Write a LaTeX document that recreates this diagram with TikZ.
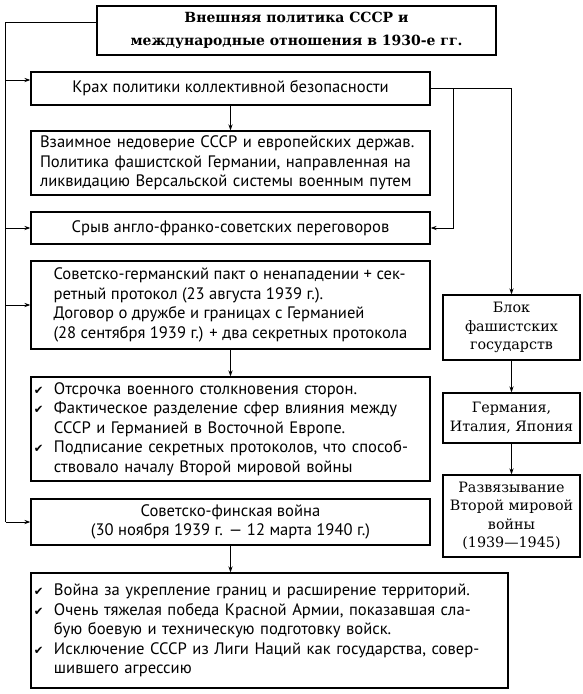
\documentclass[tikz,border=0pt]{standalone}
\usepackage{fontspec}
\setmainfont{PT Sans}
\newfontfamily\serifr{DejaVu Serif}
\newfontfamily\symf{DejaVu Sans}
\usetikzlibrary{arrows.meta}
\newcommand\ck{\makebox[20pt][l]{\symf\fontsize{11.5}{11.5}\selectfont ✔}}
\newcommand\ind{\hspace*{20pt}}
\tikzset{
  box/.style={draw, line width=1.2pt, inner sep=0pt, align=center,
    font=\fontsize{16.6}{19.5}\selectfont},
  lbox/.style={box, align=left},
  rbox/.style={box, minimum width=137pt, font=\serifr\fontsize{14.3}{18.5}\selectfont},
  tbox/.style={box, line width=1.6pt, font=\serifr\bfseries\fontsize{14}{22.5}\selectfont},
  conn/.style={line width=1pt},
  arr/.style={conn, -{Stealth[length=6pt,width=4.2pt]}}
}
\begin{document}
\begin{tikzpicture}[x=1pt,y=-1pt]
\fill[white] (0,0) rectangle (583,694);
\useasboundingbox (0,0) rectangle (583,694);

\node[tbox, minimum width=399pt, minimum height=49pt] (T) at (296.5,30.5)
  {Внешняя политика СССР и\\международные отношения в 1930-е гг.};
\node[box, minimum width=399pt, minimum height=33pt] (B1) at (230.5,88.5)
  {Крах политики коллективной безопасности};
\node[lbox, inner xsep=9pt, text width=381pt, minimum height=64pt] (B3) at (230.5,163)
  {Взаимное недоверие СССР и европейских держав.\\Политика фашистской Германии, направленная на\\ликвидацию Версальской системы военным путем};
\node[box, minimum width=399pt, minimum height=32pt] (B4) at (230.5,228)
  {Срыв англо-франко-советских переговоров};
\node[lbox, minimum width=399pt, minimum height=88pt] (B5) at (230.5,305)
  {Советско-германский пакт о ненападении + сек-\\ретный протокол (23 августа 1939 г.).\\Договор о дружбе и границах с Германией\\(28 сентября 1939 г.) + два секретных протокола};
\node[lbox, inner xsep=3pt, text width=393pt, minimum height=104pt] (B6) at (230.5,429)
  {\ck Отсрочка военного столкновения сторон.\\\ck Фактическое разделение сфер влияния между\\\ind СССР и Германией в Восточной Европе.\\\ck Подписание секретных протоколов, что способ-\\\ind ствовало началу Второй мировой войны};
\node[box, minimum width=399pt, minimum height=46pt] (B7) at (230.5,522)
  {Советско-финская война\\(30 ноября 1939 г. — 12 марта 1940 г.)};
\node[lbox, inner xsep=3pt, text width=471pt, minimum height=115pt] (B8) at (269.5,630.5)
  {\ck Война за укрепление границ и расширение территорий.\\\ck Очень тяжелая победа Красной Армии, показавшая сла-\\\ind бую боевую и техническую подготовку войск.\\\ck Исключение СССР из Лиги Наций как государства, совер-\\\ind шившего агрессию};

\node[rbox, minimum height=65pt] (R1) at (511.5,327.5) {Блок\\фашистских\\государств};
\node[rbox, minimum height=50pt] (R2) at (511.5,418) {Германия,\\Италия, Япония};
\node[rbox, minimum height=82pt] (R3) at (511.5,516) {Развязывание\\Второй мировой\\войны\\(1939—1945)};

% left trunk
\coordinate (Ltop) at (5.5,22);
\coordinate (L1) at (5.5,80);
\coordinate (Lbot) at (5.5,522);
\draw[conn] (T.west |- Ltop) -- (Ltop) -- (Lbot);
\draw[arr] (L1) -- (B1.west |- L1);
\draw[arr] (B4.west -| Ltop) -- (B4.west);
\draw[arr] (B5.west -| Ltop) -- (B5.west);
\draw[arr] (Lbot) -- (B7.west);

% right side
\coordinate (J) at (453,88.5);
\draw[arr] (B1.east) -- (R1.north |- B1.east) -- (R1.north);
\draw[arr] (J) |- (B4.east);
\draw[arr] (R1) -- (R2);
\draw[arr] (R2) -- (R3);

% vertical arrows
\draw[arr] (B1) -- (B3);
\draw[arr] (B5) -- (B6);
\draw[arr] (B7.south) -- (B7.south |- B8.north);
\end{tikzpicture}
\end{document}
